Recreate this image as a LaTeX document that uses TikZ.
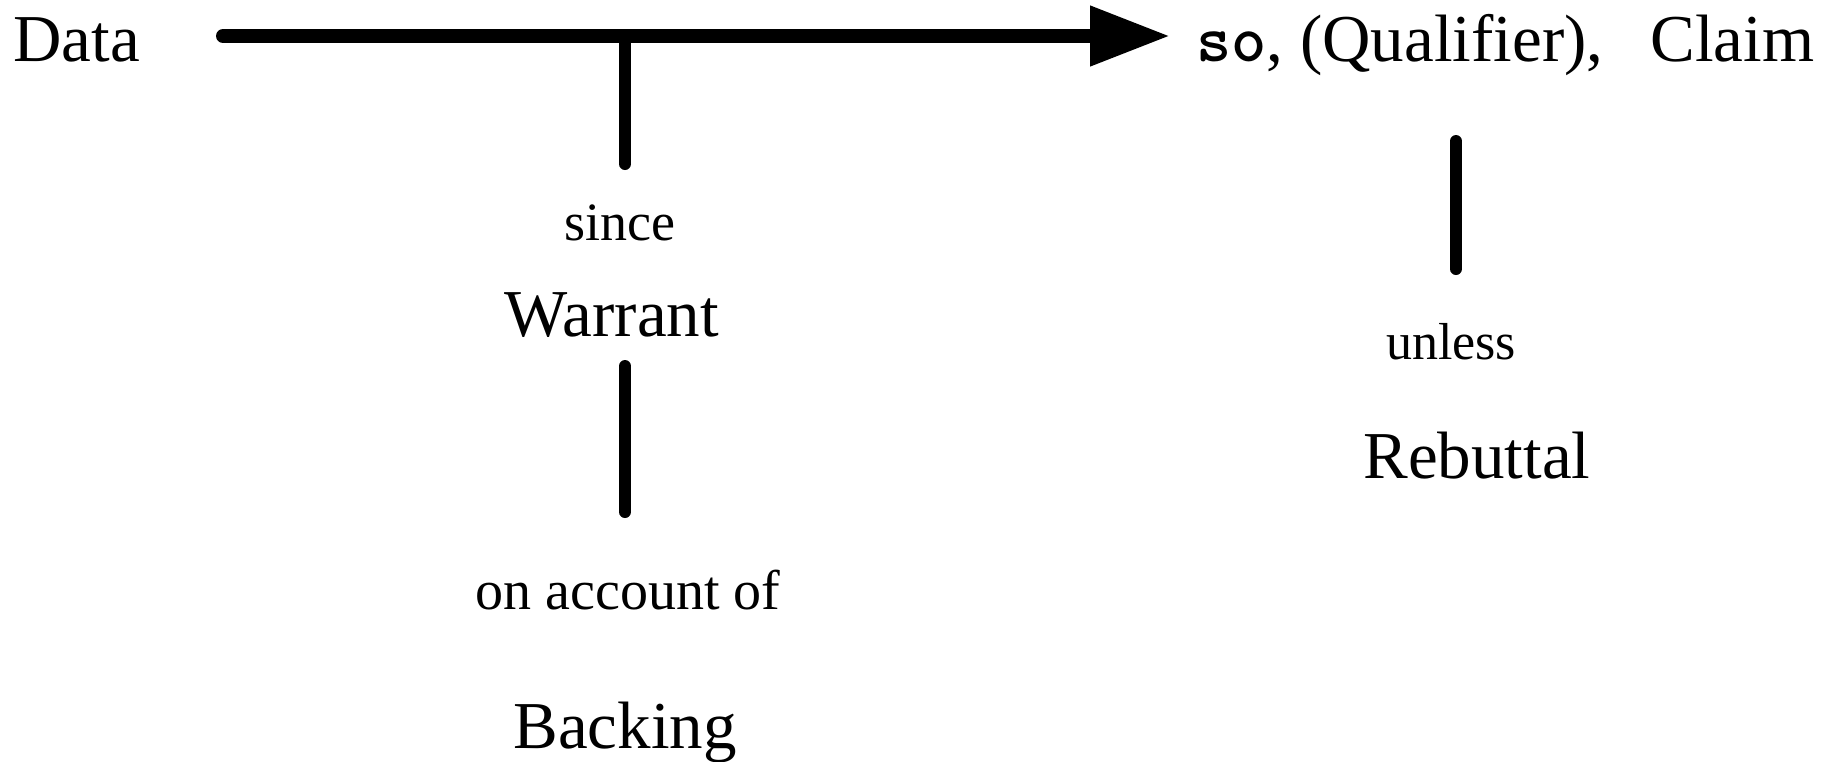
\documentclass[tikz,border=0pt]{standalone}
\usepackage{fontspec}
\setmainfont{Liberation Serif}
\usetikzlibrary{arrows.meta}
\begin{document}
\begin{tikzpicture}[x=0.5pt,y=-0.5pt,
  big/.style={font=\fontsize{33.5}{40}\selectfont, inner sep=0pt},
  small/.style={font=\fontsize{27}{32}\selectfont, inner sep=0pt},
  stem/.style={line width=6pt, line cap=round},
  mainarrow/.style={line width=7pt, line cap=round, -{Triangle[length=40pt,width=28.5pt]}}]
\useasboundingbox (0,0) rectangle (1826,761);
% labels
\node[big, anchor=base west] (data) at (13,61) {Data};
\node[big, anchor=base west] (qual) at (1196,61) {{\ttfamily\bfseries so}, (Qualifier),};
\node[big, anchor=base west] (claim) at (1650,61) {Claim};
\node[small, anchor=base] (since) at (620,240) {since};
\node[big, anchor=base] (warrant) at (612,336) {Warrant};
\node[small, font=\fontsize{28}{32}\selectfont, anchor=base] (onacc) at (628,609) {on account of};
\node[big, anchor=base] (backing) at (625,748) {Backing};
\node[small, font=\fontsize{26}{32}\selectfont, anchor=base] (unless) at (1451,359) {unless};
\node[big, anchor=base] (rebuttal) at (1477,478) {Rebuttal};
% connector end points
\coordinate (a0) at (223,36);
\coordinate (a1) at (1170,36);
\coordinate (w0) at (625,36);
\coordinate (w1) at (625,164);
\coordinate (b0) at (625,366);
\coordinate (b1) at (625,512);
\coordinate (r0) at (1456,141);
\coordinate (r1) at (1456,269);
% connectors
\draw[mainarrow] (a0) -- (a1);
\draw[stem] (w0) -- (w1);
\draw[stem] (b0) -- (b1);
\draw[stem] (r0) -- (r1);
\end{tikzpicture}
\end{document}
